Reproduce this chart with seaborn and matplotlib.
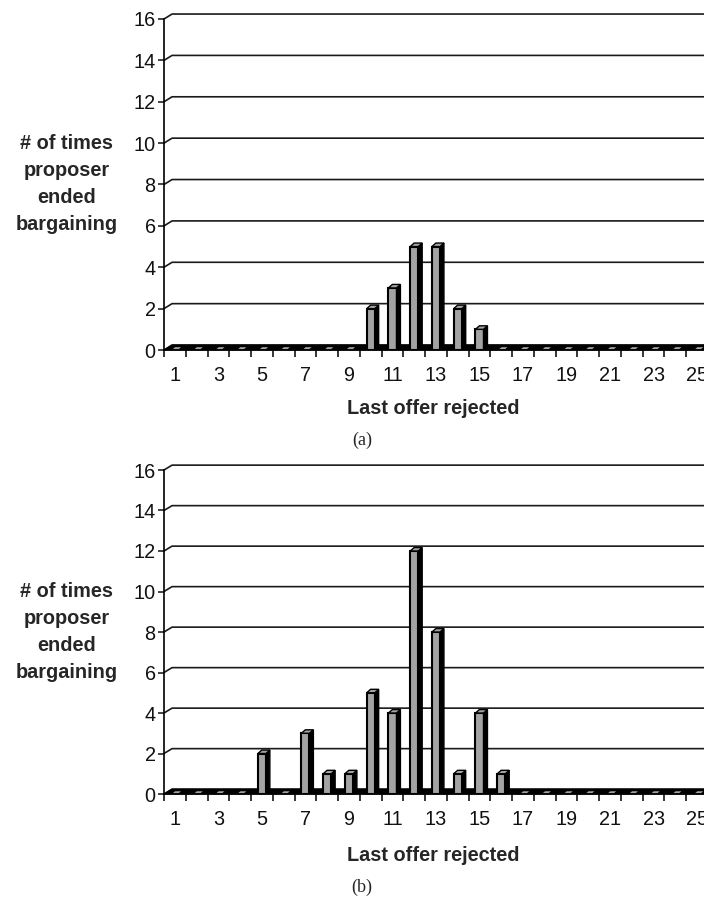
import matplotlib
matplotlib.use('Agg')
import matplotlib.pyplot as plt
import numpy as np
import pandas as pd
import seaborn as sns
from matplotlib.patches import Polygon

offers = [1, 2, 3, 4, 5, 6, 7, 8, 9, 10, 11, 12, 13, 14, 15, 16, 17, 18, 19, 20, 21, 22, 23, 24, 25]
count_a = [0, 0, 0, 0, 0, 0, 0, 0, 0, 2, 3, 5, 5, 2, 1, 0, 0, 0, 0, 0, 0, 0, 0, 0, 0]
count_b = [0, 0, 0, 0, 2, 0, 3, 1, 1, 5, 4, 12, 8, 1, 4, 1, 0, 0, 0, 0, 0, 0, 0, 0, 0]
xtick_labels = ['1', '3', '5', '7', '9', '11', '13', '15', '17', '19', '21', '23', '25']
ytick_values = [0, 2, 4, 6, 8, 10, 12, 14, 16]

sns.set_style('ticks')
plt.rcParams['font.family'] = ['Liberation Sans', 'DejaVu Sans']

bar_grey = '#a3a3a3'
dx, dy = 0.18, 0.17      # bar depth (data units)
gdx, gdy = 0.37, 0.24    # back wall depth for gridlines
fs = 14.3

fig = plt.figure(figsize=(7.04, 8.97), dpi=100)
ax_a = fig.add_axes([164 / 704, 547 / 897, 544 / 704, 331 / 897])
ax_b = fig.add_axes([164 / 704, 103 / 897, 544 / 704, 324 / 897])


def draw_panel(ax, counts):
    df = pd.DataFrame({'offer': offers, 'count': counts})
    n = len(offers)
    # gridlines on the back wall, with the little step from the axis
    for y in ytick_values:
        ax.plot([-0.5, -0.5 + gdx, n - 0.5 + gdx], [y, y + gdy, y + gdy],
                color='#1a1a1a', lw=1.2, clip_on=False, zorder=1)
    # floor
    ax.add_patch(Polygon([(-0.5, 0), (-0.5 + gdx, gdy), (n - 0.5 + gdx, gdy), (n - 0.5, 0)],
                         closed=True, facecolor='black', edgecolor='black', lw=0.8,
                         zorder=2, clip_on=False))
    sns.barplot(data=df, x='offer', y='count', color=bar_grey, saturation=1,
                width=0.37, edgecolor='black', linewidth=1.5, ax=ax, zorder=3)
    for p in list(ax.patches):
        if not isinstance(p, matplotlib.patches.Rectangle):
            continue
        x0, w, h = p.get_x(), p.get_width(), p.get_height()
        side = Polygon([(x0 + w, 0), (x0 + w + dx, dy), (x0 + w + dx, h + dy), (x0 + w, h)],
                       closed=True, facecolor='black', edgecolor='black', lw=1.0, zorder=4)
        top = Polygon([(x0, h), (x0 + dx, h + dy), (x0 + w + dx, h + dy), (x0 + w, h)],
                      closed=True, facecolor=bar_grey, edgecolor='black', lw=1.0, zorder=4)
        ax.add_patch(side)
        ax.add_patch(top)

    ax.set_xlim(-0.5, n - 0.5)
    ax.set_ylim(0, 16)
    ax.set_yticks(ytick_values)
    ax.set_xticks(np.arange(0, n, 2))
    ax.set_xticklabels(xtick_labels)
    ax.set_xticks(np.arange(-0.5, n, 1.0), minor=True)
    ax.tick_params(axis='x', which='major', length=0, pad=11.5, labelsize=fs, colors='#111111')
    ax.tick_params(axis='x', which='minor', length=5, width=1.1, direction='out', color='black')
    ax.tick_params(axis='y', which='major', length=4, width=1.1, direction='out', pad=2,
                   labelsize=fs, colors='#111111')
    ax.set_xlabel('')
    ax.set_ylabel('')
    for s in ['top', 'right']:
        ax.spines[s].set_visible(False)
    for s in ['left', 'bottom']:
        ax.spines[s].set_color('black')
        ax.spines[s].set_linewidth(1.2)
        ax.spines[s].set_zorder(5)


draw_panel(ax_a, count_a)
draw_panel(ax_b, count_b)

ylab = '# of times\nproposer\nended\nbargaining'
fig.text(67 / 704, 1 - 184 / 897, ylab, ha='center', va='center', fontsize=fs,
         fontweight='bold', linespacing=1.55)
fig.text(67 / 704, 1 - 632 / 897, ylab, ha='center', va='center', fontsize=fs,
         fontweight='bold', linespacing=1.55)

fig.text(433 / 704, 1 - 408 / 897, 'Last offer rejected', ha='center', va='center',
         fontsize=fs, fontweight='bold')
fig.text(433 / 704, 1 - 855 / 897, 'Last offer rejected', ha='center', va='center',
         fontsize=fs, fontweight='bold')

fig.text(362 / 704, 1 - 440 / 897, '(a)', ha='center', va='center', fontsize=13,
         family=['Liberation Serif', 'DejaVu Serif'])
fig.text(362 / 704, 1 - 887 / 897, '(b)', ha='center', va='center', fontsize=13,
         family=['Liberation Serif', 'DejaVu Serif'])

fig.savefig('out.png', dpi=100)
plt.close(fig)
